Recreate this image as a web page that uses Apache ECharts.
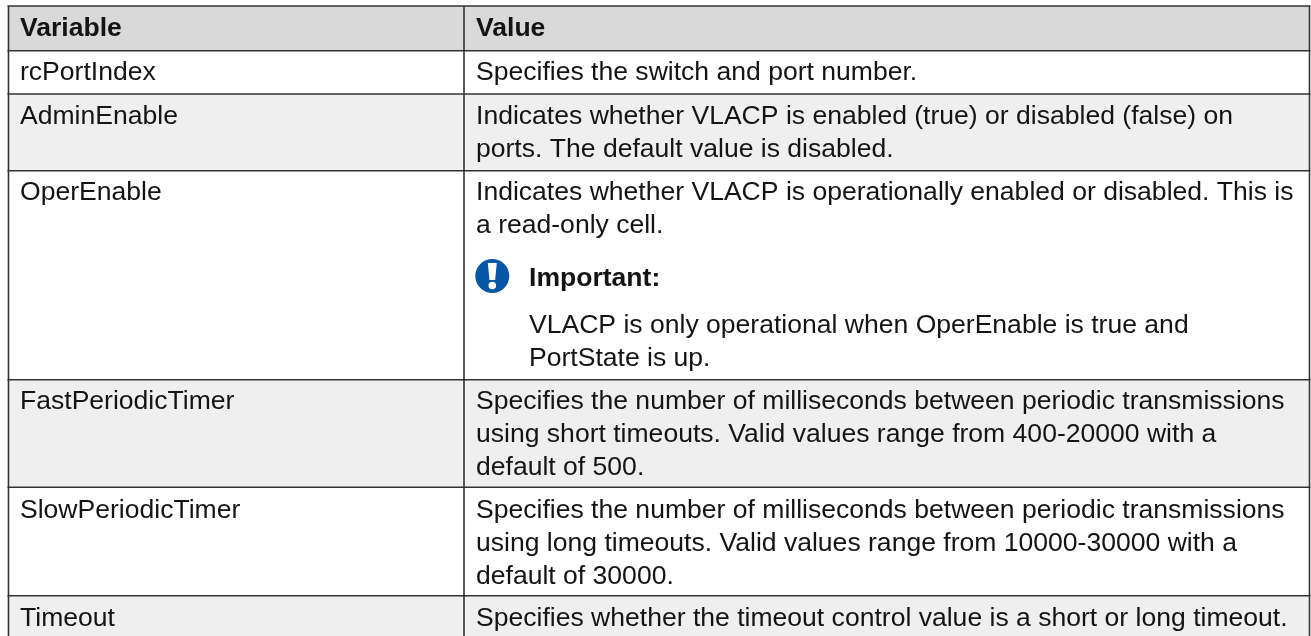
<!DOCTYPE html>
<html><head><meta charset="utf-8">
<style>html,body{margin:0;padding:0;background:#fff}#c{width:1311px;height:636px}</style>
<script src="https://cdn.jsdelivr.net/npm/echarts@6/dist/echarts.min.js"></script>
</head><body><div id="c"></div>
<script>
const headers = ["Variable", "Value"];
const variables = ["rcPortIndex","AdminEnable","OperEnable","FastPeriodicTimer","SlowPeriodicTimer","Timeout"];
const valueLines = [
  ["Specifies the switch and port number."],
  ["Indicates whether VLACP is enabled (true) or disabled (false) on","ports. The default value is disabled."],
  ["Indicates whether VLACP is operationally enabled or disabled. This is","a read-only cell."],
  ["Specifies the number of milliseconds between periodic transmissions","using short timeouts. Valid values range from 400-20000 with a","default of 500."],
  ["Specifies the number of milliseconds between periodic transmissions","using long timeouts. Valid values range from 10000-30000 with a","default of 30000."],
  ["Specifies whether the timeout control value is a short or long timeout."]
];
const noteTitle = "Important:";
const noteLines = ["VLACP is only operational when OperEnable is true and","PortState is up."];

// layout (pixel scale of the hidden axes)
const L = {left:8.5, mid:464, right:1309.5, top:6, head:50.7,
  rowEdges:[50.7,94,170.7,379.7,487.3,595.7,640], lh:33, fs:26.55, col1:20, col2:476, note:529,
  firstLine:[20,20.5,20,20,21.7,21.4], headY:26.5, textNudge:2};
const ink = '#141414', rule = '#333333';
const font = 'Liberation Sans, Arial, sans-serif';

function txt(api, s, x, y, bold){
  const p = api.coord([x,y+L.textNudge]);
  return {type:'text', style:{x:p[0], y:p[1], text:s, fill:ink, font:(bold?'bold ':'')+L.fs+'px '+font, align:'left', verticalAlign:'middle'}};
}
function ln(api,x1,y1,x2,y2,w){
  const a=api.coord([x1,y1]), b=api.coord([x2,y2]);
  return {type:'line', shape:{x1:a[0],y1:a[1],x2:b[0],y2:b[1]}, style:{stroke:rule,lineWidth:w}};
}
function renderCell(params, api){
  const i = params.dataIndex, ch = [];
  if (i === 0) {
    const a=api.coord([L.left,L.top]), b=api.coord([L.right,L.head]);
    ch.push({type:'rect',shape:{x:a[0],y:a[1],width:b[0]-a[0],height:b[1]-a[1]},style:{fill:'#d9d9d9'}});
    ch.push(txt(api,headers[0],L.col1,L.headY,true));
    ch.push(txt(api,headers[1],L.col2,L.headY,true));
    return {type:'group',children:ch};
  }
  const r = i-1, y0=L.rowEdges[r], y1=L.rowEdges[r+1];
  const a=api.coord([L.left,y0]), b=api.coord([L.right,y1]);
  ch.push({type:'rect',shape:{x:a[0],y:a[1],width:b[0]-a[0],height:b[1]-a[1]},style:{fill:r%2?'#efefef':'#ffffff'}});
  ch.push(txt(api,variables[r],L.col1,y0+L.firstLine[r],false));
  valueLines[r].forEach((s,k)=>ch.push(txt(api,s,L.col2,y0+L.firstLine[r]+k*L.lh,false)));
  return {type:'group',children:ch};
}
function renderRules(params, api){
  const ch=[];
  [L.top,L.head].concat(L.rowEdges.slice(1,6)).forEach(y=>ch.push(ln(api,L.left-1,y,L.right+1,y,1.6)));
  ch.push(ln(api,L.left,L.top,L.left,640,1.6));
  ch.push(ln(api,L.mid,L.top,L.mid,640,1.6));
  ch.push(ln(api,L.right,L.top,L.right,640,1.6));
  return {type:'group',children:ch};
}
function renderNote(params, api){
  const c=api.coord([492.3,276]);
  const ch=[
    {type:'circle',shape:{cx:c[0],cy:c[1],r:17},style:{fill:'#0457a6'}},
    {type:'polygon',shape:{points:[[c[0]-4.5,c[1]-13],[c[0]+4.5,c[1]-13],[c[0]+2.8,c[1]+4],[c[0]-2.8,c[1]+4]]},style:{fill:'#fff'}},
    {type:'circle',shape:{cx:c[0],cy:c[1]+9.5,r:3.8},style:{fill:'#fff'}},
    txt(api,noteTitle,L.note,277,true),
    txt(api,noteLines[0],L.note,324,false),
    txt(api,noteLines[1],L.note,357,false)
  ];
  return {type:'group',children:ch};
}
const chart = echarts.init(document.getElementById('c'),null,{renderer:'canvas'});
chart.setOption({
  animation:false,
  backgroundColor:'#ffffff',
  grid:{left:0,right:0,top:0,bottom:0,containLabel:false},
  xAxis:{type:'value',min:0,max:1311,show:false},
  yAxis:{type:'value',min:0,max:636,inverse:true,show:false},
  series:[
    {type:'custom',coordinateSystem:'cartesian2d',clip:true,data:[["Variable"]].concat(variables.map(v=>[v])),renderItem:renderCell,silent:true,encode:{x:[],y:[]}},
    {type:'custom',coordinateSystem:'cartesian2d',clip:true,data:[[0]],renderItem:renderRules,silent:true,encode:{x:[],y:[]},z:3},
    {type:'custom',coordinateSystem:'cartesian2d',clip:true,data:[[0]],renderItem:renderNote,silent:true,encode:{x:[],y:[]},z:4}
  ]
});
</script></body></html>
